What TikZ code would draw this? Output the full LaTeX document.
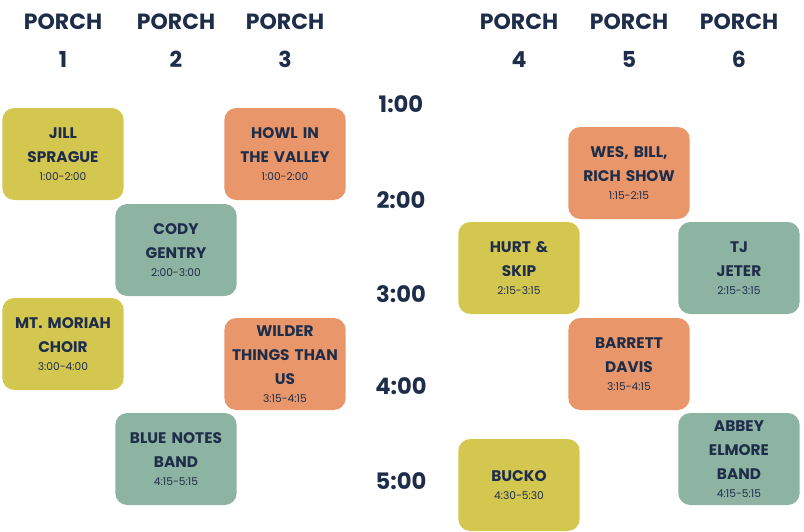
\documentclass[tikz,border=0pt]{standalone}
\usepackage{fontspec}
\setmainfont{Poppins}
\usetikzlibrary{positioning}
\definecolor{navy}{HTML}{1E2D4A}
\definecolor{mustard}{HTML}{D3C750}
\definecolor{peach}{HTML}{E9976A}
\definecolor{sage}{HTML}{8DB3A2}
\tikzset{
  act/.style = {rectangle, rounded corners=9pt, minimum width=90.75pt, minimum height=69pt,
    text width=89pt, align=center, text=navy, font=\bfseries\fontsize{11.5}{18}\selectfont, inner sep=1pt},
  head/.style = {text=navy, font=\bfseries\fontsize{16.5}{28.5}\selectfont, align=center},
  hour/.style = {text=navy, font=\bfseries\fontsize{17}{18}\selectfont}
}
\newcommand{\actbox}[6]{% name, x, y, colour, title, time
  \node[act, fill=#4] (#1) at (#2,#3) {#5\\[-5pt]{\normalfont\fontsize{8}{9}\selectfont #6}};}
\begin{document}
\begin{tikzpicture}[x=0.75pt, y=-0.75pt]
    \useasboundingbox (0,0) rectangle (804,532);
    % Porch headers
    \foreach \x/\n in {63/1, 176/2, 285/3, 519/4, 629/5, 739/6}
        \node[head] (h\n) at (\x,41) {PORCH\\\n};
    % Hours
    \foreach \y/\t [count=\i] in {104/1:00, 200/2:00, 294/3:00, 386/4:00, 481/5:00}
        \node[hour] (t\i) at (401,\y) {\t};
    % Left porches
    \actbox{jill}{63}{154}{mustard}{JILL\\SPRAGUE}{1:00-2:00}
    \actbox{howl}{285}{154}{peach}{HOWL IN\\THE VALLEY}{1:00-2:00}
    \actbox{cody}{176}{250}{sage}{CODY\\GENTRY}{2:00-3:00}
    \actbox{moriah}{63}{344}{mustard}{MT. MORIAH\\CHOIR}{3:00-4:00}
    \actbox{wilder}{285}{364}{peach}{WILDER\\THINGS THAN\\US}{3:15-4:15}
    \actbox{blue}{176}{459}{sage}{BLUE NOTES\\BAND}{4:15-5:15}
    % Right porches
    \actbox{wes}{629}{173}{peach}{WES, BILL,\\RICH SHOW}{1:15-2:15}
    \actbox{hurt}{519}{268}{mustard}{HURT \&\\SKIP}{2:15-3:15}
    \actbox{tj}{739}{268}{sage}{TJ\\JETER}{2:15-3:15}
    \actbox{barrett}{629}{364}{peach}{BARRETT\\DAVIS}{3:15-4:15}
    \actbox{bucko}{519}{485}{mustard}{BUCKO}{4:30-5:30}
    \actbox{abbey}{739}{459}{sage}{ABBEY\\ELMORE\\BAND}{4:15-5:15}
\end{tikzpicture}
\end{document}
